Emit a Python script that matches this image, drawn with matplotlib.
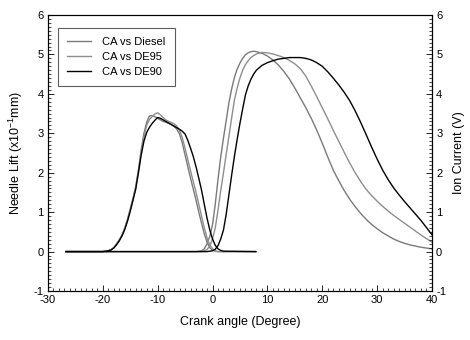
import matplotlib
matplotlib.use("Agg")
import matplotlib.pyplot as plt
from matplotlib.ticker import MultipleLocator

plt.rcParams['font.family'] = ['Liberation Sans', 'DejaVu Sans']
plt.rcParams['mathtext.fontset'] = 'custom'
plt.rcParams['mathtext.rm'] = 'Liberation Sans'
plt.rcParams['mathtext.it'] = 'Liberation Sans'
plt.rcParams['axes.unicode_minus'] = False

# needle lift (x10^-1 mm)
lift_x = [-26.7, -20, -19.5, -19, -18.5, -18, -17.5, -17, -16.5, -16, -15.5, -15, -14.5, -14,
          -13.5, -13, -12.5, -12, -11.5, -11, -10.5, -10, -9.5, -9, -8.5, -8, -7.5, -7, -6.5,
          -6, -5.5, -5, -4.5, -4, -3.5, -3, -2.5, -2, -1.5, -1, -0.5, 0, 0.5, 1, 1.5, 2, 7.9]
lift_diesel = [0, 0, 0.01, 0.02, 0.05, 0.1, 0.2, 0.3, 0.42, 0.6, 0.82, 1.08, 1.35, 1.65,
               2.08, 2.58, 3.0, 3.28, 3.44, 3.45, 3.42, 3.38, 3.34, 3.3, 3.28, 3.25, 3.22, 3.18, 3.1,
               2.98, 2.75, 2.45, 2.15, 1.86, 1.58, 1.3, 1.0, 0.72, 0.45, 0.24, 0.1, 0.04, 0.01, 0, 0, 0, 0]
lift_de95 = [0, 0, 0.01, 0.02, 0.05, 0.1, 0.19, 0.29, 0.41, 0.58, 0.8, 1.05, 1.32, 1.62,
             2.05, 2.52, 2.9, 3.2, 3.35, 3.42, 3.49, 3.52, 3.47, 3.4, 3.34, 3.3, 3.27, 3.24, 3.18,
             3.07, 2.88, 2.62, 2.33, 2.05, 1.77, 1.5, 1.2, 0.9, 0.6, 0.35, 0.17, 0.07, 0.02, 0, 0, 0, 0]
lift_de90 = [0, 0, 0.01, 0.02, 0.04, 0.09, 0.17, 0.27, 0.4, 0.56, 0.77, 1.02, 1.3, 1.58,
             2.0, 2.45, 2.8, 3.02, 3.15, 3.25, 3.33, 3.4, 3.38, 3.34, 3.3, 3.26, 3.22, 3.18, 3.14,
             3.1, 3.05, 2.98, 2.82, 2.62, 2.41, 2.15, 1.86, 1.56, 1.2, 0.85, 0.55, 0.32, 0.16, 0.07,
             0.03, 0.01, 0]

# ion current (V)
ion_x = [-26.7, -3, -2, -1.5, -1, -0.5, 0, 0.5, 1, 1.5, 2, 2.5, 3, 3.5, 4, 4.5, 5, 5.5, 6,
         6.5, 7, 7.5, 8, 9, 10, 11, 12, 13, 14, 15, 16, 17, 18, 19, 20, 21, 22, 23, 24, 25,
         26, 27, 28, 29, 30, 31, 32, 33, 34, 35, 36, 37, 38, 39, 40]
ion_diesel = [0, 0, 0.02, 0.07, 0.2, 0.38, 0.68, 1.2, 1.83, 2.4, 2.88, 3.33, 3.78, 4.13, 4.42,
              4.63, 4.78, 4.9, 4.99, 5.04, 5.07, 5.08, 5.07, 5.03, 4.96, 4.86, 4.73, 4.57, 4.38,
              4.15, 3.9, 3.65, 3.38, 3.08, 2.75, 2.4, 2.07, 1.8, 1.55, 1.33, 1.14, 0.97, 0.82,
              0.69, 0.58, 0.48, 0.4, 0.32, 0.26, 0.21, 0.17, 0.14, 0.11, 0.09, 0.07]
ion_de95 = [0, 0, 0, 0.02, 0.05, 0.14, 0.32, 0.6, 1.05, 1.55, 2.0, 2.47, 2.93, 3.4, 3.85,
            4.15, 4.4, 4.6, 4.74, 4.84, 4.92, 4.97, 5.01, 5.05, 5.04, 5.01, 4.97, 4.92, 4.85,
            4.76, 4.64, 4.45, 4.2, 3.93, 3.65, 3.37, 3.08, 2.8, 2.52, 2.25, 2.0, 1.78, 1.58,
            1.42, 1.28, 1.15, 1.03, 0.92, 0.82, 0.72, 0.62, 0.52, 0.42, 0.33, 0.24]
ion_de90 = [0, 0, 0, 0, 0, 0.01, 0.02, 0.06, 0.15, 0.32, 0.55, 0.95, 1.45, 1.95, 2.42,
            2.85, 3.25, 3.62, 3.97, 4.2, 4.37, 4.5, 4.6, 4.72, 4.79, 4.84, 4.88, 4.9, 4.92,
            4.92, 4.92, 4.9, 4.86, 4.79, 4.7, 4.56, 4.4, 4.23, 4.04, 3.83, 3.57, 3.28, 2.97,
            2.65, 2.35, 2.07, 1.83, 1.62, 1.44, 1.27, 1.11, 0.95, 0.79, 0.61, 0.43]

labels = ['CA vs Diesel', 'CA vs DE95', 'CA vs DE90']
colors = ['#7a7a7a', '#8e8e8e', '#000000']

fig = plt.figure(figsize=(4.7, 3.4), dpi=100)
ax = fig.add_axes([0.102, 0.144, 0.817, 0.812])

for lift, ion, lab, c in zip([lift_diesel, lift_de95, lift_de90],
                             [ion_diesel, ion_de95, ion_de90], labels, colors):
    ax.plot(lift_x, lift, color=c, lw=1.0, label=lab)
    ax.plot(ion_x, ion, color=c, lw=1.0)

ax.set_xlim(-30, 40)
ax.set_ylim(-1, 6)
ax.xaxis.set_major_locator(MultipleLocator(10))
ax.xaxis.set_minor_locator(MultipleLocator(1))
ax.yaxis.set_major_locator(MultipleLocator(1))
ax.yaxis.set_minor_locator(MultipleLocator(0.1))
ax.tick_params(which='both', direction='in', top=False, labelsize=8, pad=3)
ax.tick_params(which='major', length=4, width=0.6)
ax.tick_params(which='minor', length=2, width=0.5)
for s in ax.spines.values():
    s.set_linewidth(0.8)

ax2 = ax.twinx()
ax2.set_ylim(-1, 6)
ax2.yaxis.set_major_locator(MultipleLocator(1))
ax2.yaxis.set_minor_locator(MultipleLocator(0.1))
ax2.tick_params(which='both', direction='in', labelsize=8, pad=3)
ax2.tick_params(which='major', length=4, width=0.6)
ax2.tick_params(which='minor', length=2, width=0.5)

ax.set_xlabel('Crank angle (Degree)', fontsize=9, labelpad=8)
ax.set_ylabel('Needle Lift (x10$^{-1}$mm)', fontsize=9, labelpad=6)
ax2.set_ylabel('Ion Current (V)', fontsize=9, labelpad=5)

leg = ax.legend(loc='upper left', bbox_to_anchor=(0.026, 0.953), borderaxespad=0,
                fontsize=8, frameon=True, fancybox=False, handlelength=2.2,
                handletextpad=1.0, labelspacing=0.45, borderpad=0.8)
leg.get_frame().set_edgecolor('#333333')
leg.get_frame().set_linewidth(0.8)

fig.savefig('out.png', dpi=100)
